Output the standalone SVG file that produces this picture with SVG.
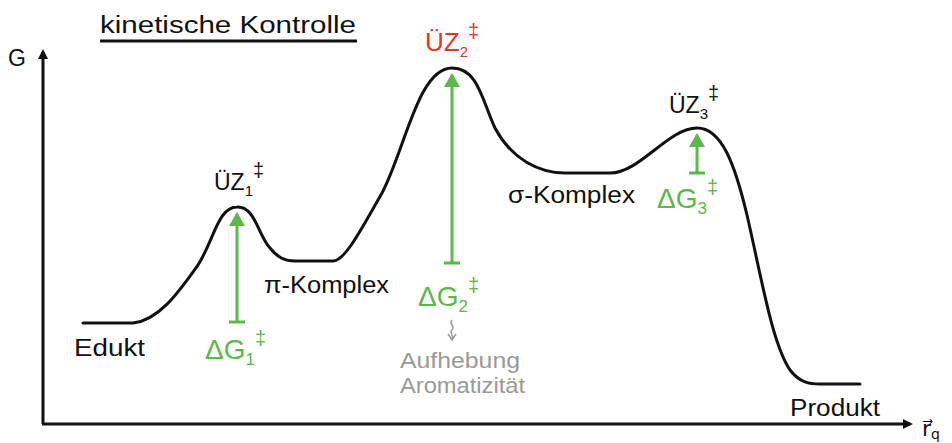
<svg xmlns="http://www.w3.org/2000/svg" width="952" height="443" viewBox="0 0 952 443">
<style>
text{font-family:"Liberation Sans",Arial,sans-serif;}
.blk{fill:#111;font-size:23px;}
.grn{fill:#5cb84a;font-size:28px;}
.gry{fill:#999;font-size:22px;}
.curve{fill:none;stroke:#111;stroke-width:3;stroke-linecap:round;stroke-linejoin:round;}
.ax{stroke:#111;stroke-width:3;fill:none;}
.ga{stroke:#5cb84a;stroke-width:3;fill:none;}
</style>
<defs>
<marker id="ah" markerWidth="10" markerHeight="10" refX="7" refY="5" orient="auto" markerUnits="userSpaceOnUse" viewBox="0 0 10 10"><path d="M0,0 L10,5 L0,10 Z" fill="#111"/></marker>
<marker id="gh" markerWidth="14" markerHeight="16" refX="12" refY="8" orient="auto" markerUnits="userSpaceOnUse" viewBox="0 0 14 16"><path d="M0,0 L14,8 L0,16 Z" fill="#5cb84a"/></marker>
</defs>
<g id="title">
<text x="100" y="33" class="blk" font-size="26" textLength="256" lengthAdjust="spacingAndGlyphs">kinetische Kontrolle</text>
<line x1="100" y1="41" x2="357" y2="41" stroke="#111" stroke-width="3"/>
</g>
<g id="axes">
<line x1="43" y1="424" x2="43" y2="52" class="ax" marker-end="url(#ah)"/>
<line x1="42" y1="424" x2="910" y2="424" class="ax" marker-end="url(#ah)"/>
<text x="8" y="66" class="blk" font-size="24">G</text>
<text x="922" y="436" fill="#111" font-size="22" style="font-family:'DejaVu Sans',sans-serif">r⃗<tspan font-size="14" dy="3">q</tspan></text>
</g>
<g id="connectors">
<path class="curve" d="M83,323 L133,323 C160,320 180,290 198,265 C214,240 218,207 237,207 C255,206 258,235 270,248 C278,258 285,261 295,261 L333,261 C345,261 362,228 382,193 C405,150 418,68 452,68 C478,68 482,100 495,128 C512,160 540,173 565,173 L610,173 C640,173 668,128 697,128 C722,128 735,165 747,215 C762,280 772,343 790,370 C800,383 810,384 820,384 L860,384"/>
<line class="ga" x1="237" y1="322" x2="237" y2="214" marker-end="url(#gh)"/>
<line class="ga" x1="229" y1="322" x2="245" y2="322"/>
<line class="ga" x1="452" y1="263" x2="452" y2="75" marker-end="url(#gh)"/>
<line class="ga" x1="444" y1="263" x2="460" y2="263"/>
<line class="ga" x1="697" y1="173" x2="697" y2="135" marker-end="url(#gh)"/>
<line class="ga" x1="689" y1="173" x2="705" y2="173"/>
<path d="M452,320 C448,324 456,326 452,330 C449,333 454,335 452,338 M448,334 L452,340 L456,334" fill="none" stroke="#999" stroke-width="1.5"/>
</g>
<g id="edukt"><text x="74" y="356" class="blk" textLength="71" lengthAdjust="spacingAndGlyphs">Edukt</text></g>
<g id="uz1"><text x="214" y="190" class="blk" font-size="26">ÜZ<tspan font-size="15" dy="6">1</tspan><tspan font-size="20" dy="-19">‡</tspan></text></g>
<g id="dg1"><text x="205" y="359" class="grn">ΔG<tspan font-size="17" dy="6">1</tspan><tspan font-size="20" dy="-20">‡</tspan></text></g>
<g id="pi"><text x="264" y="293" class="blk" textLength="125" lengthAdjust="spacingAndGlyphs">π-Komplex</text></g>
<g id="uz2"><text x="425" y="51" fill="#e8322c" font-size="26">ÜZ<tspan font-size="15" dy="6">2</tspan><tspan font-size="20" dy="-19">‡</tspan></text></g>
<g id="dg2"><text x="418" y="306" class="grn">ΔG<tspan font-size="17" dy="6">2</tspan><tspan font-size="20" dy="-20">‡</tspan></text></g>
<g id="arom"><text x="400" y="368" class="gry" textLength="120" lengthAdjust="spacingAndGlyphs">Aufhebung</text><text x="400" y="393" class="gry" textLength="125" lengthAdjust="spacingAndGlyphs">Aromatizität</text></g>
<g id="sigma"><text x="508" y="203" class="blk" textLength="127" lengthAdjust="spacingAndGlyphs">σ-Komplex</text></g>
<g id="uz3"><text x="669" y="113" class="blk" font-size="26">ÜZ<tspan font-size="15" dy="6">3</tspan><tspan font-size="20" dy="-19">‡</tspan></text></g>
<g id="dg3"><text x="657" y="208" class="grn">ΔG<tspan font-size="17" dy="6">3</tspan><tspan font-size="20" dy="-20">‡</tspan></text></g>
<g id="produkt"><text x="790" y="416" class="blk" textLength="90" lengthAdjust="spacingAndGlyphs">Produkt</text></g>
</svg>
